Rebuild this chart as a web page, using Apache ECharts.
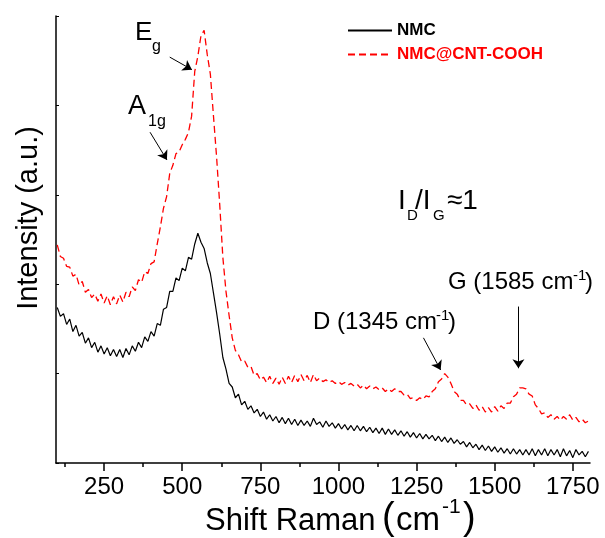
<!DOCTYPE html>
<html>
<head>
<meta charset="utf-8">
<script src="https://cdn.jsdelivr.net/npm/echarts@6/dist/echarts.min.js"></script>
<style>
  html, body { margin: 0; padding: 0; background: #fff; }
  #chart { width: 605px; height: 538px; }
</style>
</head>
<body>
<div id="chart"></div>
<script>
// Raman shift sampling (cm-1)
const SHIFT = [
  100, 110, 120, 130, 140, 150, 160, 170, 180, 190,
  200, 210, 220, 230, 240, 250, 260, 270, 280, 290,
  300, 310, 320, 330, 340, 350, 360, 370, 380, 390,
  400, 410, 420, 430, 440, 450, 460, 470, 480, 490,
  500, 510, 520, 530, 540, 550, 560, 570, 580, 590,
  600, 610, 620, 630, 640, 650, 660, 670, 680, 690,
  700, 710, 720, 730, 740, 750, 760, 770, 780, 790,
  800, 810, 820, 830, 840, 850, 860, 870, 880, 890,
  900, 910, 920, 930, 940, 950, 960, 970, 980, 990,
  1000, 1010, 1020, 1030, 1040, 1050, 1060, 1070, 1080, 1090,
  1100, 1110, 1120, 1130, 1140, 1150, 1160, 1170, 1180, 1190,
  1200, 1210, 1220, 1230, 1240, 1250, 1260, 1270, 1280, 1290,
  1300, 1310, 1320, 1330, 1340, 1350, 1360, 1370, 1380, 1390,
  1400, 1410, 1420, 1430, 1440, 1450, 1460, 1470, 1480, 1490,
  1500, 1510, 1520, 1530, 1540, 1550, 1560, 1570, 1580, 1590,
  1600, 1610, 1620, 1630, 1640, 1650, 1660, 1670, 1680, 1690,
  1700, 1710, 1720, 1730, 1740, 1750, 1760, 1770, 1780, 1790,
  1800
];

// intensities (a.u.), noise included
const NMC = [
  1.74, 1.64, 1.67, 1.55, 1.61, 1.47, 1.54, 1.42, 1.46, 1.34,
  1.40, 1.29, 1.35, 1.24, 1.31, 1.22, 1.29, 1.20, 1.27, 1.19,
  1.27, 1.18, 1.28, 1.21, 1.31, 1.25, 1.35, 1.29, 1.41, 1.36,
  1.47, 1.42, 1.56, 1.54, 1.72, 1.74, 1.92, 1.92, 2.07, 2.04,
  2.18, 2.15, 2.30, 2.28, 2.45, 2.57, 2.47, 2.40, 2.24, 2.12,
  1.90, 1.68, 1.44, 1.18, 1.05, 0.89, 0.85, 0.73, 0.77, 0.65,
  0.69, 0.60, 0.64, 0.56, 0.60, 0.52, 0.57, 0.49, 0.54, 0.47,
  0.52, 0.45, 0.51, 0.44, 0.50, 0.43, 0.49, 0.42, 0.48, 0.42,
  0.47, 0.41, 0.50, 0.43, 0.46, 0.40, 0.47, 0.41, 0.45, 0.39,
  0.44, 0.38, 0.43, 0.37, 0.42, 0.36, 0.42, 0.36, 0.41, 0.35,
  0.40, 0.34, 0.39, 0.33, 0.39, 0.32, 0.38, 0.32, 0.37, 0.31,
  0.36, 0.30, 0.35, 0.29, 0.34, 0.28, 0.33, 0.27, 0.32, 0.27,
  0.31, 0.25, 0.30, 0.24, 0.29, 0.23, 0.28, 0.22, 0.26, 0.21,
  0.24, 0.18, 0.23, 0.17, 0.21, 0.15, 0.20, 0.14, 0.19, 0.13,
  0.18, 0.12, 0.17, 0.11, 0.16, 0.10, 0.16, 0.10, 0.15, 0.09,
  0.15, 0.09, 0.16, 0.08, 0.15, 0.09, 0.16, 0.08, 0.15, 0.09,
  0.15, 0.07, 0.16, 0.08, 0.14, 0.06, 0.15, 0.09, 0.13, 0.07,
  0.13
];

const NMC_CNT = [
  2.44, 2.31, 2.29, 2.20, 2.19, 2.09, 2.11, 1.99, 2.03, 1.91,
  1.94, 1.85, 1.89, 1.81, 1.89, 1.79, 1.87, 1.77, 1.86, 1.78,
  1.88, 1.80, 1.91, 1.86, 1.97, 1.93, 2.05, 2.02, 2.14, 2.12,
  2.23, 2.25, 2.45, 2.64, 2.85, 2.98, 3.24, 3.33, 3.46, 3.48,
  3.56, 3.62, 3.70, 3.88, 4.38, 4.55, 4.78, 4.84, 4.57, 4.35,
  3.88, 3.42, 2.89, 2.30, 1.92, 1.65, 1.40, 1.26, 1.21, 1.13,
  1.14, 1.07, 1.08, 0.98, 1.00, 0.93, 0.96, 0.90, 0.97, 0.89,
  0.95, 0.88, 0.96, 0.89, 0.97, 0.90, 0.98, 0.91, 0.99, 0.92,
  0.98, 0.90, 0.99, 0.92, 0.95, 0.91, 0.93, 0.90, 0.92, 0.89,
  0.91, 0.88, 0.90, 0.87, 0.89, 0.86, 0.88, 0.84, 0.87, 0.83,
  0.86, 0.83, 0.85, 0.82, 0.84, 0.80, 0.83, 0.80, 0.83, 0.80,
  0.80, 0.76, 0.77, 0.72, 0.73, 0.70, 0.73, 0.71, 0.75, 0.74,
  0.80, 0.83, 0.91, 0.94, 1.00, 0.96, 0.89, 0.80, 0.77, 0.70,
  0.70, 0.65, 0.66, 0.61, 0.65, 0.59, 0.63, 0.57, 0.62, 0.57,
  0.63, 0.58, 0.64, 0.61, 0.67, 0.67, 0.74, 0.77, 0.84, 0.84,
  0.83, 0.77, 0.75, 0.65, 0.61, 0.55, 0.56, 0.51, 0.54, 0.49,
  0.52, 0.48, 0.52, 0.49, 0.54, 0.48, 0.51, 0.46, 0.49, 0.45,
  0.47
];

const X_TICKS = [250, 500, 750, 1000, 1250, 1500, 1750];
const X_MINOR = [125, 375, 625, 875, 1125, 1375, 1625];

// arrows [from, to] in data coords
const ARROWS = [
  [[460, 4.54], [531, 4.40]],   // Eg
  [[397, 3.70], [451, 3.39]],   // A1g
  [[1272, 1.40], [1327, 1.04]], // D
  [[1576, 1.75], [1576, 1.06]]  // G
];

const FONT = 'Arial, "Liberation Sans", sans-serif';

function txt(s, x, y, size, extra, rotation) {
  return {
    type: 'text', x: x, y: y, rotation: rotation || 0, silent: true,
    style: Object.assign({
      text: s, fill: '#000', fontSize: size, fontFamily: FONT,
      align: 'left', verticalAlign: 'middle'
    }, extra || {})
  };
}

const chart = echarts.init(document.getElementById('chart'));

chart.setOption({
  animation: false,
  backgroundColor: '#fff',
  grid: { left: 56, right: 15, top: 16, bottom: 75, containLabel: false },
  legend: {
    orient: 'vertical', left: 342, top: 17,
    itemWidth: 44, itemHeight: 14, itemGap: 7,
    itemStyle: { color: 'rgba(0,0,0,0)', borderWidth: 0, opacity: 0 },
    textStyle: { fontSize: 17, fontWeight: 'bold', fontFamily: FONT },
    data: [
      { name: 'NMC', textStyle: { color: '#000' } },
      { name: 'NMC@CNT-COOH', textStyle: { color: '#ff0000' } }
    ]
  },
  xAxis: [
    {
      type: 'value', min: 96, max: 1805,
      axisLine: { lineStyle: { color: '#000', width: 1.5 } },
      axisTick: { customValues: X_TICKS, length: 8, lineStyle: { color: '#000', width: 1.5 } },
      axisLabel: {
        customValues: X_TICKS, fontSize: 24, color: '#000', fontFamily: FONT, margin: 12,
        formatter: v => String(v)
      },
      splitLine: { show: false }
    },
    {
      type: 'value', min: 96, max: 1805, position: 'bottom',
      axisLine: { show: false },
      axisTick: { customValues: X_MINOR, length: 4, lineStyle: { color: '#000', width: 1.5 } },
      axisLabel: { show: false },
      splitLine: { show: false }
    }
  ],
  yAxis: {
    type: 'value', min: 0, max: 5, interval: 1,
    axisLine: { show: true, lineStyle: { color: '#000', width: 1.5 } },
    axisTick: { show: true, inside: true, length: 3, lineStyle: { color: '#000' } },
    axisLabel: { show: false },
    splitLine: { show: false }
  },
  series: [
    {
      name: 'NMC', type: 'line', symbol: 'none',
      data: SHIFT.map((x, i) => [x, NMC[i]]),
      lineStyle: { color: '#000', width: 1.2 },
      itemStyle: { color: '#000' },
      markLine: {
        silent: true, symbol: ['none', 'arrow'], symbolSize: 9,
        label: { show: false },
        lineStyle: { color: '#000', width: 1, type: 'solid' },
        data: ARROWS.map(a => [{ coord: a[0] }, { coord: a[1] }])
      }
    },
    {
      name: 'NMC@CNT-COOH', type: 'line', symbol: 'none',
      data: SHIFT.map((x, i) => [x, NMC_CNT[i]]),
      lineStyle: { color: '#ff0000', width: 1.3, type: [7, 4] },
      itemStyle: { color: '#ff0000' }
    }
  ],
  graphic: [
    // axis titles
    txt('Intensity (a.u.)', 29, 218, 29, { align: 'center', verticalAlign: 'middle' }, Math.PI / 2),
    txt('Shift Raman', 205, 521, 31),
    txt('(', 382, 519, 38),
    txt('cm', 396, 521, 33),
    txt('-1', 442, 507, 21),
    txt(')', 463, 519, 38),
    // peak labels
    txt('E', 135, 33, 26),
    txt('g', 152, 47, 16),
    txt('A', 128, 107, 27),
    txt('1g', 148, 122, 16),
    // ratio
    txt('I', 398, 201, 28),
    txt('D', 407, 216, 15),
    txt('/I', 415, 201, 28),
    txt('G', 433, 216, 15),
    txt('\u22481', 447, 201, 28),
    // D and G bands
    txt('D (1345 cm', 313, 322, 24),
    txt('-1', 436, 316, 15),
    txt(')', 448, 322, 24),
    txt('G (1585 cm', 448, 282, 24),
    txt('-1', 573, 276, 15),
    txt(')', 585, 282, 24)
  ]
});
</script>
</body>
</html>
